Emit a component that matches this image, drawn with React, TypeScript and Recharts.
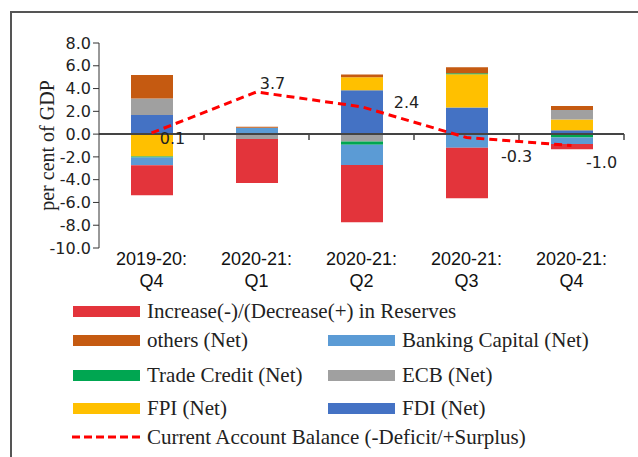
import { ComposedChart, Bar, Line, XAxis, YAxis, ReferenceLine, LabelList } from "recharts";

// Quarter labels (two lines on the axis)
const years = ["2019-20:", "2020-21:", "2020-21:", "2020-21:", "2020-21:"];
const quarters = ["Q4", "Q1", "Q2", "Q3", "Q4"];

// per cent of GDP
const fdi = [1.67, 0.0, 3.86, 2.34, 0.35];
const fpi = [-1.96, 0.0, 1.14, 2.92, 0.94];
const ecb = [1.46, -0.44, -0.64, 0.0, 0.82];
const tradeCredit = [-0.1, 0.1, -0.29, 0.08, -0.29];
const bankingCapital = [-0.67, 0.45, -1.78, -1.2, -0.58];
const others = [2.05, 0.1, 0.23, 0.53, 0.35];
const reserves = [-2.63, -3.86, -5.03, -4.44, -0.47];
const cab = [0.1, 3.7, 2.4, -0.3, -1.0];

const yTicks = [-10, -8, -6, -4, -2, 0, 2, 4, 6, 8];

// where the CAB value labels sit relative to their point
const cabLabelOffsets = [
  { dx: 21, dy: 6 },
  { dx: 16, dy: -8 },
  { dx: 45, dy: -4 },
  { dx: 50, dy: 19 },
  { dx: 30, dy: 17 },
];

const colors = {
  reserves: "#E3343B",
  others: "#C55A11",
  banking: "#5B9BD5",
  trade: "#00A651",
  ecb: "#A0A0A0",
  fpi: "#FFC000",
  fdi: "#4472C4",
  cab: "#FF0000",
};

const data = years.map((y, i) => ({
  year: y,
  quarter: quarters[i],
  key: `${y} ${quarters[i]}`,
  fdi: fdi[i],
  fpi: fpi[i],
  ecb: ecb[i],
  trade: tradeCredit[i],
  banking: bankingCapital[i],
  others: others[i],
  reserves: reserves[i],
  cab: cab[i],
}));

const sansFont = "'DejaVu Sans', sans-serif";
const serifFont = "'Liberation Serif', serif";

const CategoryTick = ({ x, y, payload }: any) => {
  const idx = payload.index;
  return (
    <g>
      <text x={x} y={y + 9} textAnchor="middle" fill="#111" fontFamily="'Liberation Sans', sans-serif" fontSize={18}>
        {years[idx]}
      </text>
      <text x={x} y={y + 31} textAnchor="middle" fill="#111" fontFamily="'Liberation Sans', sans-serif" fontSize={18}>
        {quarters[idx]}
      </text>
    </g>
  );
};

// zero line with the little category divider ticks hanging below it
const ZeroAxis = (props: any) => {
  const { x1, x2, y1 } = props;
  const n = data.length;
  const step = (x2 - x1) / n;
  return (
    <g>
      <line x1={x1} x2={x2} y1={y1} y2={y1} stroke="#444" strokeWidth={2} />
      {data.map((_, i) => (
        <line key={i} x1={x1 + step * (i + 1)} x2={x1 + step * (i + 1)} y1={y1} y2={y1 + 6} stroke="#444" strokeWidth={1.5} />
      ))}
    </g>
  );
};

const CabLabel = (props: any) => {
  const { x, y, value, index } = props;
  const o = cabLabelOffsets[index];
  return (
    <text x={x + o.dx} y={y + o.dy} textAnchor="middle" dominantBaseline="central" fontFamily={sansFont} fontSize={16} fill="#222">
      {value.toFixed(1)}
    </text>
  );
};

const legendRows = [
  [{ name: "Increase(-)/(Decrease(+) in Reserves", color: colors.reserves }],
  [
    { name: "others (Net)", color: colors.others },
    { name: "Banking Capital (Net)", color: colors.banking },
  ],
  [
    { name: "Trade Credit (Net)", color: colors.trade },
    { name: "ECB (Net)", color: colors.ecb },
  ],
  [
    { name: "FPI (Net)", color: colors.fpi },
    { name: "FDI (Net)", color: colors.fdi },
  ],
];
const legendRowY = [311, 340, 375, 408];
const legendFontSize = 21;

export default function App() {
  return (
    <div style={{ position: "fixed", left: 0, top: 0, width: 638, height: 457, background: "#fff", overflow: "hidden" }}>
      <div style={{ position: "absolute", left: 10, top: 11, width: 628, height: 446, borderTop: "2px solid #555", borderLeft: "2px solid #555" }} />
      <div style={{ position: "absolute", left: 0, top: 0 }}>
        <ComposedChart width={638} height={300} data={data} stackOffset="sign" margin={{ top: 43, right: 14, left: 0, bottom: 0 }} barSize={42}>
          <XAxis dataKey="key" axisLine={false} tickLine={false} height={52} tick={<CategoryTick />} interval={0} />
          <YAxis
            domain={[-10, 8]}
            ticks={yTicks}
            interval={0}
            width={99}
            tickFormatter={(v: number) => v.toFixed(1)}
            tick={{ fill: "#222", fontFamily: sansFont, fontSize: 16 }}
            stroke="#333"
            tickSize={6}
            label={{
              content: ({ viewBox }: any) => (
                <text
                  x={viewBox.x + 47}
                  y={viewBox.y + viewBox.height / 2}
                  transform={`rotate(-90 ${viewBox.x + 47} ${viewBox.y + viewBox.height / 2})`}
                  textAnchor="middle"
                  dominantBaseline="central"
                  fontFamily={serifFont}
                  fontSize={20}
                  fill="#222"
                >
                  per cent of GDP
                </text>
              ),
            }}
          />
          <Bar dataKey="fdi" stackId="a" fill={colors.fdi} isAnimationActive={false} />
          <Bar dataKey="fpi" stackId="a" fill={colors.fpi} isAnimationActive={false} />
          <Bar dataKey="ecb" stackId="a" fill={colors.ecb} isAnimationActive={false} />
          <Bar dataKey="trade" stackId="a" fill={colors.trade} isAnimationActive={false} />
          <Bar dataKey="banking" stackId="a" fill={colors.banking} isAnimationActive={false} />
          <Bar dataKey="others" stackId="a" fill={colors.others} isAnimationActive={false} />
          <Bar dataKey="reserves" stackId="a" fill={colors.reserves} isAnimationActive={false} />
          <ReferenceLine y={0} shape={<ZeroAxis />} />
          <Line
            dataKey="cab"
            stroke={colors.cab}
            strokeWidth={3}
            strokeDasharray="8 5"
            dot={false}
            activeDot={false}
            isAnimationActive={false}
          >
            <LabelList dataKey="cab" content={<CabLabel />} />
          </Line>
        </ComposedChart>
      </div>
      {legendRows.map((row, r) =>
        row.map((item, c) => (
          <div
            key={`${r}-${c}`}
            style={{
              position: "absolute",
              left: c === 0 ? 73 : 328,
              top: legendRowY[r] - 12,
              height: 24,
              display: "flex",
              alignItems: "center",
              fontFamily: serifFont,
              fontSize: legendFontSize,
              color: "#222",
              whiteSpace: "nowrap",
            }}
          >
            <span style={{ display: "inline-block", width: 67, height: 11, background: item.color, marginRight: 7 }} />
            {item.name}
          </div>
        ))
      )}
      <div
        style={{
          position: "absolute",
          left: 72,
          top: 437 - 12,
          height: 24,
          display: "flex",
          alignItems: "center",
          fontFamily: serifFont,
          fontSize: legendFontSize,
          color: "#222",
          whiteSpace: "nowrap",
        }}
      >
        <svg width={68} height={6} style={{ marginRight: 7 }}>
          <line x1={0} x2={68} y1={3} y2={3} stroke={colors.cab} strokeWidth={3} strokeDasharray="8 4" />
        </svg>
        Current Account Balance (-Deficit/+Surplus)
      </div>
    </div>
  );
}
